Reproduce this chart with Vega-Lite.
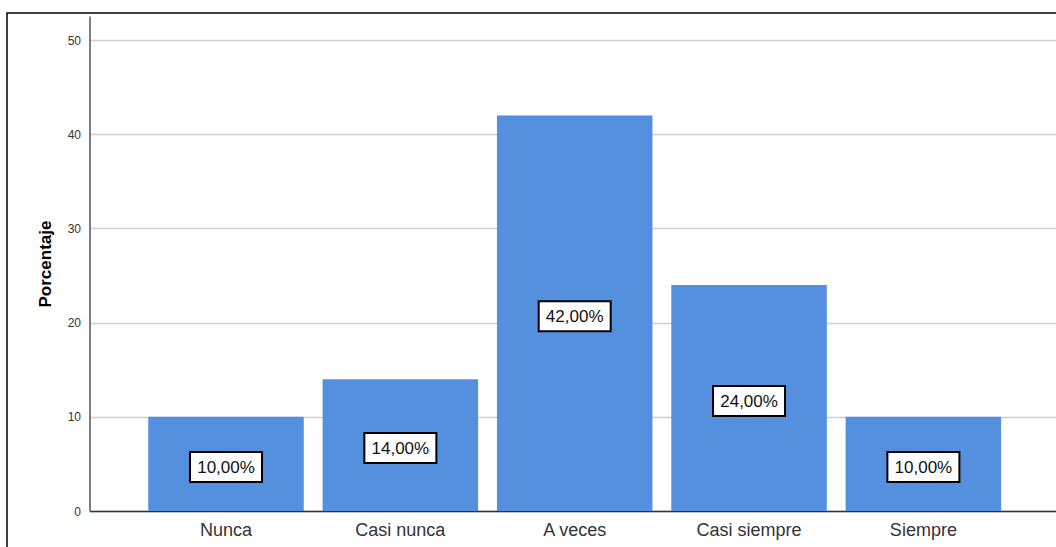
{
  "$schema": "https://vega.github.io/schema/vega-lite/v6.json",
  "autosize": "none",
  "padding": {"left": 7, "top": 13, "right": 0, "bottom": 0},
  "width": 1060,
  "height": 540,
  "background": "white",
  "config": {
    "view": {"stroke": "#000000", "strokeWidth": 1.5, "fill": "white"},
    "font": "Liberation Sans"
  },
  "data": {
    "values": [
      {"categoria": "Nunca", "porcentaje": 10, "etiqueta": "10,00%"},
      {"categoria": "Casi nunca", "porcentaje": 14, "etiqueta": "14,00%"},
      {"categoria": "A veces", "porcentaje": 42, "etiqueta": "42,00%"},
      {"categoria": "Casi siempre", "porcentaje": 24, "etiqueta": "24,00%"},
      {"categoria": "Siempre", "porcentaje": 10, "etiqueta": "10,00%"}
    ]
  },
  "encoding": {
    "x": {
      "field": "categoria",
      "type": "nominal",
      "sort": null,
      "scale": {"range": [82.5, 1052.9], "paddingInner": 0.108, "paddingOuter": 0.337},
      "axis": {
        "title": null,
        "orient": "bottom",
        "offset": -42,
        "ticks": false,
        "grid": false,
        "domainColor": "#333333",
        "domainWidth": 1.5,
        "labelAngle": 0,
        "labelFontSize": 18,
        "labelColor": "#333333",
        "labelPadding": 10
      }
    }
  },
  "layer": [
    {
      "mark": {"type": "bar", "color": "#5490DE"},
      "encoding": {
        "y": {
          "field": "porcentaje",
          "type": "quantitative",
          "scale": {"domain": [0, 52.55], "range": [498, 3], "nice": false},
          "axis": {
            "title": "Porcentaje",
            "values": [0, 10, 20, 30, 40, 50],
            "offset": -82.5,
            "ticks": false,
            "grid": true,
            "gridColor": "#cfcfcf",
            "gridWidth": 1.5,
            "domainColor": "#555555",
            "domainWidth": 1.5,
            "labelFontSize": 12,
            "labelColor": "#333333",
            "labelPadding": 9,
            "titleFontSize": 17,
            "titleFontWeight": "bold",
            "titleColor": "#000000",
            "titlePadding": 13
          }
        }
      }
    },
    {
      "encoding": {
        "y": {
          "field": "porcentaje",
          "type": "quantitative",
          "scale": {"domain": [0, 105.1], "range": [498, 3], "nice": false},
          "axis": null
        }
      },
      "layer": [
        {
          "mark": {
            "type": "point",
            "shape": "M-1,-0.417H1V0.417H-1Z",
            "size": 5184,
            "filled": true,
            "fill": "white",
            "stroke": "black",
            "strokeWidth": 2,
            "opacity": 1,
            "yOffset": 3
          }
        },
        {
          "mark": {
            "type": "text",
            "fontSize": 17,
            "color": "#111111",
            "baseline": "middle",
            "align": "center",
            "yOffset": 4
          },
          "encoding": {"text": {"field": "etiqueta"}}
        }
      ]
    }
  ],
  "resolve": {"scale": {"y": "independent"}}
}
